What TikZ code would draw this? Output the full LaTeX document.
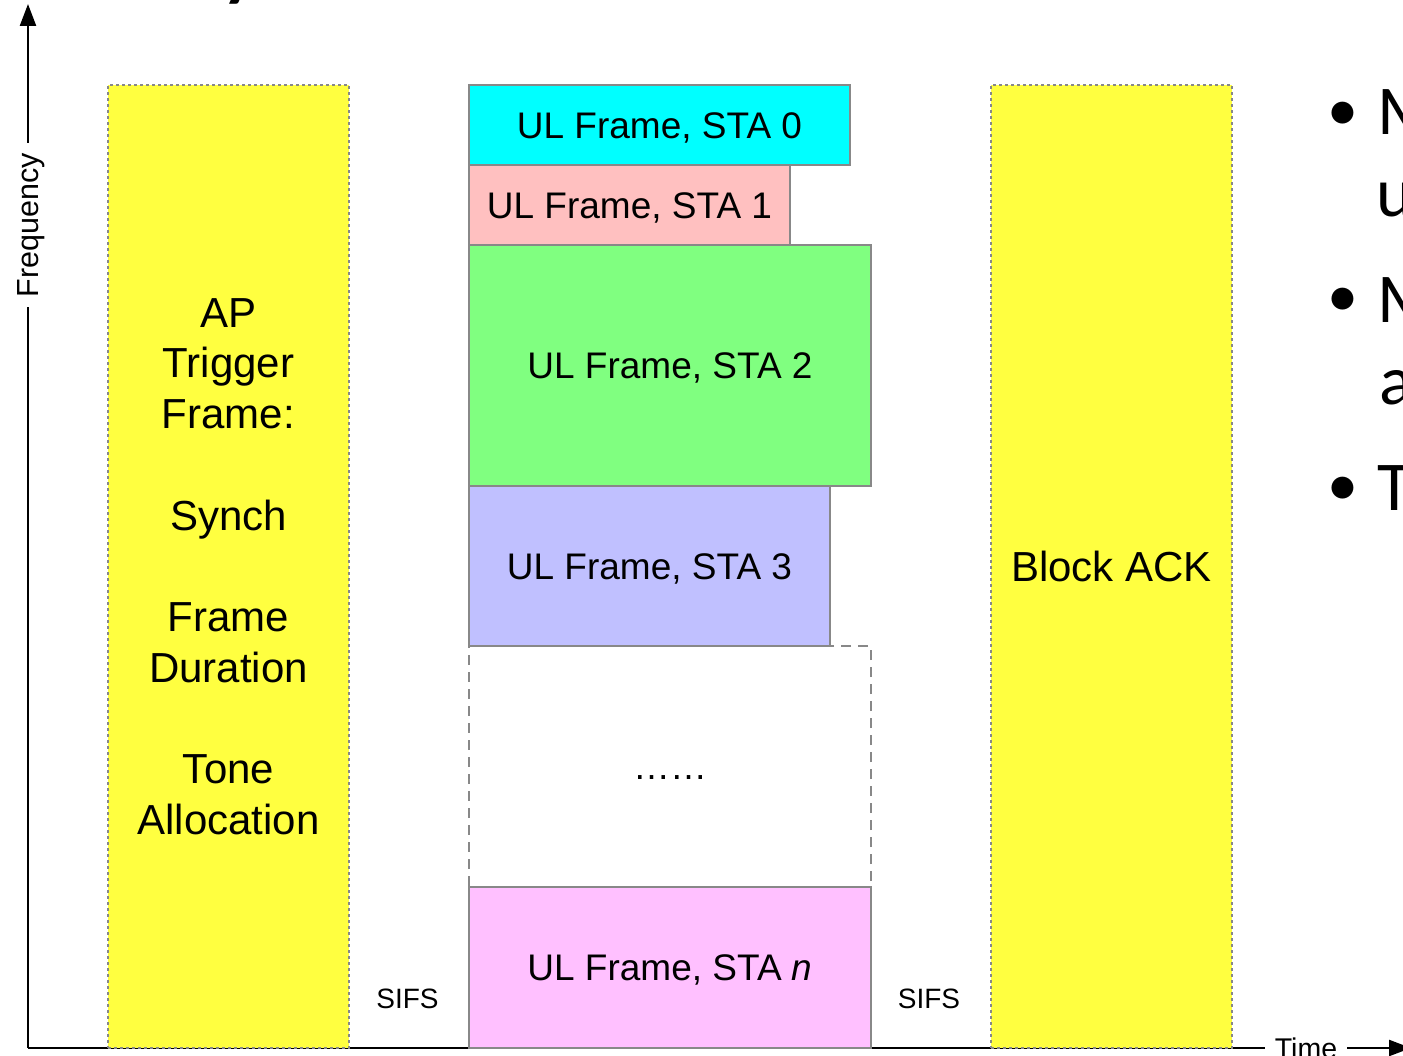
\documentclass[tikz,border=0pt]{standalone}
\usepackage{fontspec}
\setmainfont{Liberation Sans}
\newfontfamily\slidefont{Carlito}
\usetikzlibrary{arrows.meta}

\definecolor{trigyellow}{RGB}{255,255,64}
\definecolor{staA}{RGB}{0,255,255}
\definecolor{staB}{RGB}{255,192,192}
\definecolor{staC}{RGB}{128,255,128}
\definecolor{staD}{RGB}{192,192,255}
\definecolor{staN}{RGB}{255,192,255}
\definecolor{edgegray}{RGB}{136,136,136}

\begin{document}
\begin{tikzpicture}[x=1pt,y=-1pt,
  axisline/.style={line width=2.4pt, black},
  axistip/.style={-{Triangle[length=22pt,width=16pt]}},
  slot/.style={draw=edgegray, line width=2pt, inner sep=0pt,
    font=\fontsize{37}{44}\selectfont, text height=26.5pt, text depth=0pt},
  window/.style={draw=edgegray, line width=2pt, dash pattern=on 3pt off 3pt,
    fill=trigyellow, inner sep=0pt, align=center,
    minimum width=241pt, minimum height=963pt,
    font=\fontsize{42}{50.7}\selectfont},
  gaplabel/.style={inner sep=0pt, font=\fontsize{28}{34}\selectfont,
    text height=20pt, text depth=0pt},
  axislabel/.style={inner xsep=10pt, inner ysep=0pt, text height=21.5pt, text depth=0pt},
  slidetext/.style={inner sep=0pt, font=\slidefont\fontsize{70}{84}\selectfont}
]
\useasboundingbox (0,0) rectangle (1403,1056);
\clip (0,0) rectangle (1403,1056);

% axes
\coordinate (origin) at (28,1048);
\coordinate (ytip) at (28,4);
\coordinate (xtip) at (1411,1048);
\node[axislabel, rotate=90, font=\fontsize{30.5}{36}\selectfont] (freq) at (28,225) {Frequency};
\node[axislabel, font=\fontsize{28.5}{34}\selectfont] (time) at (1306,1048) {Time};
\draw[axisline] (origin) -- (freq.west);
\draw[axisline, axistip] (freq.east) -- (ytip);
\draw[axisline] (origin) -- (time.west);
\draw[axisline, axistip] (time.east) -- (xtip);

% trigger frame and block ack
\node[window] (trigger) at (228.5,566.5)
  {AP\\Trigger\\Frame:\\[50.7pt]Synch\\[50.7pt]Frame\\Duration\\[50.7pt]Tone\\Allocation};
\node[window] (back) at (1111.5,566.5) {Block ACK};

% uplink frames
\node[slot, draw=edgegray, dash pattern=on 10pt off 7pt, minimum width=402pt, minimum height=241pt]
  (more) at (670,766.5) {……};
\node[slot, fill=staA, minimum width=381pt, minimum height=80pt] (s0) at (659.5,125) {UL Frame, STA 0};
\node[slot, fill=staB, minimum width=321pt, minimum height=80pt] (s1) at (629.5,205) {UL Frame, STA 1};
\node[slot, fill=staC, minimum width=402pt, minimum height=241pt] (s2) at (670,365.5) {UL Frame, STA 2};
\node[slot, fill=staD, minimum width=361pt, minimum height=160pt] (s3) at (649.5,566) {UL Frame, STA 3};
\node[slot, fill=staN, minimum width=402pt, minimum height=161pt] (sn) at (670,967.5) {UL Frame, STA \textit{n}};

% inter-frame spaces
\node[gaplabel] (sifsA) at (407.5,998) {SIFS};
\node[gaplabel] (sifsB) at (929,998) {SIFS};

% slide text at the edges
\node[slidetext, anchor=base west, font=\slidefont\fontsize{104}{120}\selectfont] (ttl) at (218,-12) {y};
\node[slidetext, anchor=base, font=\slidefont\fontsize{62}{84}\selectfont] (b1) at (1343,131) {•};
\node[slidetext, anchor=base west] (t1) at (1377,135) {M};
\node[slidetext, anchor=base west] (t2) at (1376,217) {u};
\node[slidetext, anchor=base, font=\slidefont\fontsize{62}{84}\selectfont] (b2) at (1343,317) {•};
\node[slidetext, anchor=base west] (t3) at (1377,323) {M};
\node[slidetext, anchor=base west] (t4) at (1379,405) {a};
\node[slidetext, anchor=base, font=\slidefont\fontsize{62}{84}\selectfont] (b3) at (1343,505) {•};
\node[slidetext, anchor=base west] (t5) at (1377,510) {T};
\end{tikzpicture}
\end{document}
